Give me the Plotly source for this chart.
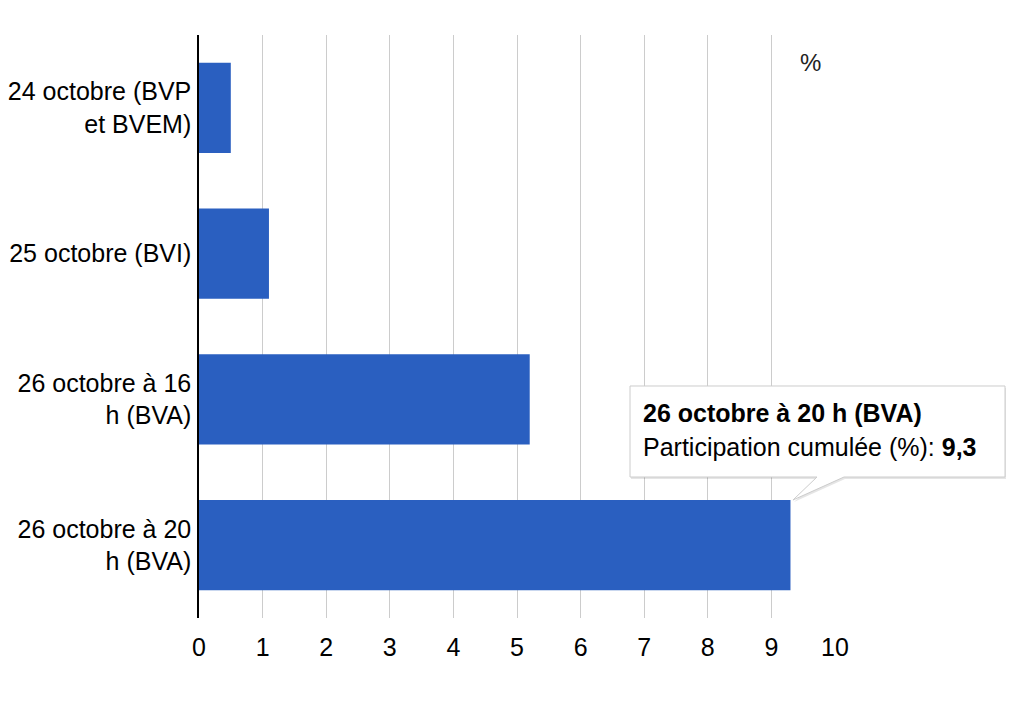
import plotly.graph_objects as go

categories = ["24 octobre (BVP<br>et BVEM)", "25 octobre (BVI)",
              "26 octobre à 16<br>h (BVA)", "26 octobre à 20<br>h (BVA)"]
values = [0.5, 1.1, 5.2, 9.3]
x_ticks = list(range(0, 11))
series_name = "Participation cumulée (%)"
tip_title = "26 octobre à 20 h (BVA)"
tip_value = "9,3"

# page body has an 8px margin, so the figure is drawn a bit smaller
W, H = 1016, 700
L, R, T, B = 199, 835, 35, 618   # plot area on screen
OFF = 8

def px(x):
    return (x - L) / (R - L)

def py(y):
    return (B - y) / (B - T)

def callout(dx=0, dy=0):
    pts = [(630, 386), (1005, 386), (1005, 477), (844, 477), (793, 500),
           (817, 477), (630, 477)]
    s = "M " + " L ".join("%f,%f" % (px(x + dx), py(y + dy)) for x, y in pts)
    return s + " Z"

fig = go.Figure()
fig.add_trace(go.Bar(
    y=categories, x=values, orientation="h", name=series_name,
    marker=dict(color="#2a5fc0", line=dict(width=0)),
    hoverinfo="skip",
))

fnt = "Liberation Sans, Arial, Helvetica, sans-serif"

# tooltip
fig.add_shape(type="path", xref="paper", yref="paper", path=callout(1, 2),
              fillcolor="rgba(0,0,0,0.10)", line=dict(width=0), layer="above")
fig.add_shape(type="path", xref="paper", yref="paper", path=callout(),
              fillcolor="white", line=dict(color="#cccccc", width=1), layer="above")

fig.add_annotation(xref="paper", yref="paper", x=px(641), y=py(413),
                   xanchor="left", yanchor="middle", showarrow=False,
                   text="<b>%s</b>" % tip_title,
                   font=dict(family=fnt, size=25, color="#000000"))
fig.add_annotation(xref="paper", yref="paper", x=px(641), y=py(447),
                   xanchor="left", yanchor="middle", showarrow=False,
                   text="%s: <b>%s</b>" % (series_name, tip_value),
                   font=dict(family=fnt, size=25, color="#000000"))

# "%" label top right
fig.add_annotation(xref="paper", yref="paper", x=px(810), y=py(62),
                   xanchor="center", yanchor="middle", showarrow=False,
                   text="%", font=dict(family=fnt, size=24, color="#222222"))

fig.update_layout(
    width=W, height=H,
    margin=dict(l=L - OFF, r=W + OFF - R, t=T - OFF, b=H + OFF - B),
    paper_bgcolor="white", plot_bgcolor="white",
    showlegend=False, bargap=0.38,
    font=dict(family=fnt, size=25, color="#000000"),
    xaxis=dict(range=[0, 10], tickvals=x_ticks, showgrid=True,
               gridcolor="#cccccc", gridwidth=1, zeroline=False,
               showline=False, ticks="", ticklabelstandoff=12,
               tickfont=dict(size=25), automargin=False),
    yaxis=dict(autorange="reversed", showgrid=False, showline=True,
               linecolor="#000000", linewidth=1.5, ticks="",
               ticklabelstandoff=1, tickfont=dict(size=25), automargin=False),
)

fig.write_html("out.html")
